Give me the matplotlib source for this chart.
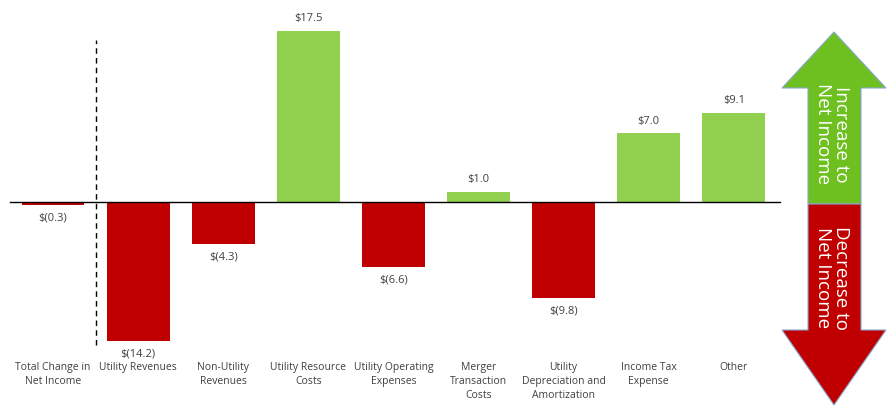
import matplotlib.pyplot as plt
from matplotlib.patches import Polygon

categories = ["Total Change in\nNet Income", "Utility Revenues", "Non-Utility\nRevenues",
              "Utility Resource\nCosts", "Utility Operating\nExpenses", "Merger\nTransaction\nCosts",
              "Utility\nDepreciation and\nAmortization", "Income Tax\nExpense", "Other"]
values = [-0.3, -14.2, -4.3, 17.5, -6.6, 1.0, -9.8, 7.0, 9.1]
value_labels = ["$(0.3)", "$(14.2)", "$(4.3)", "$17.5", "$(6.6)", "$1.0", "$(9.8)", "$7.0", "$9.1"]

RED = "#C00000"
GREEN = "#92D050"
TXT = "#404040"

plt.rcParams['font.family'] = ['Open Sans', 'DejaVu Sans']

W, H = 896, 417
fig = plt.figure(figsize=(W / 100, H / 100), dpi=100)
ax = fig.add_axes([0, 0, 1, 1])

# pixel mapping: category i centered at 53 + 85.1*i, zero at y=202, 9.79 px per unit
x0, dx = 53, 85.1
y0, dy = 202, 9.79
ax.set_xlim(-x0 / dx, (W - x0) / dx)
ax.set_ylim(-(H - y0) / dy, y0 / dy)
ax.axis("off")

xs = list(range(len(values)))
colors = [GREEN if v > 0 else RED for v in values]
ax.bar(xs, values, width=0.74, color=colors, zorder=2)

ax.axhline(0, xmin=10 / W, xmax=780 / W, color="black", lw=1, zorder=3)
ax.axvline(0.5, ymin=1 - 345 / H, ymax=1 - 40 / H, color="black", lw=1, ls=(0, (4, 3)))

for x, v, lab in zip(xs, values, value_labels):
    if v >= 0:
        ax.annotate(lab, (x, v), xytext=(0, 5), textcoords="offset points",
                    ha="center", va="bottom", fontsize=8, color=TXT)
    else:
        ax.annotate(lab, (x, v), xytext=(0, -5.5), textcoords="offset points",
                    ha="center", va="top", fontsize=8, color=TXT)

cat_y = -(362 - y0) / dy
for x, c in zip(xs, categories):
    ax.text(x, cat_y, c, ha="center", va="top", fontsize=7.5, color=TXT, linespacing=1.35)

# double arrow on the right (figure pixel coords)
def fp(px, py):
    return (px / W, 1 - py / H)

up = [fp(834, 32), fp(886, 88), fp(861, 88), fp(861, 204), fp(808, 204), fp(808, 88), fp(782, 88)]
down = [fp(808, 204), fp(861, 204), fp(861, 330), fp(886, 330), fp(834, 405), fp(782, 330), fp(808, 330)]
fig.patches.append(Polygon(up, closed=True, facecolor="#6EC020", edgecolor="#8AA6CC", lw=0.8,
                           transform=fig.transFigure))
fig.patches.append(Polygon(down, closed=True, facecolor="#C00000", edgecolor="#8AA6CC", lw=0.8,
                           transform=fig.transFigure))
fig.text(*fp(832, 134), "Increase to\nNet Income", rotation=-90, ha="center", va="center",
         color="white", fontsize=13.5, linespacing=1.05)
fig.text(*fp(832, 278), "Decrease to\nNet Income", rotation=-90, ha="center", va="center",
         color="white", fontsize=13.5, linespacing=1.05)

fig.savefig("out.png", dpi=100)
